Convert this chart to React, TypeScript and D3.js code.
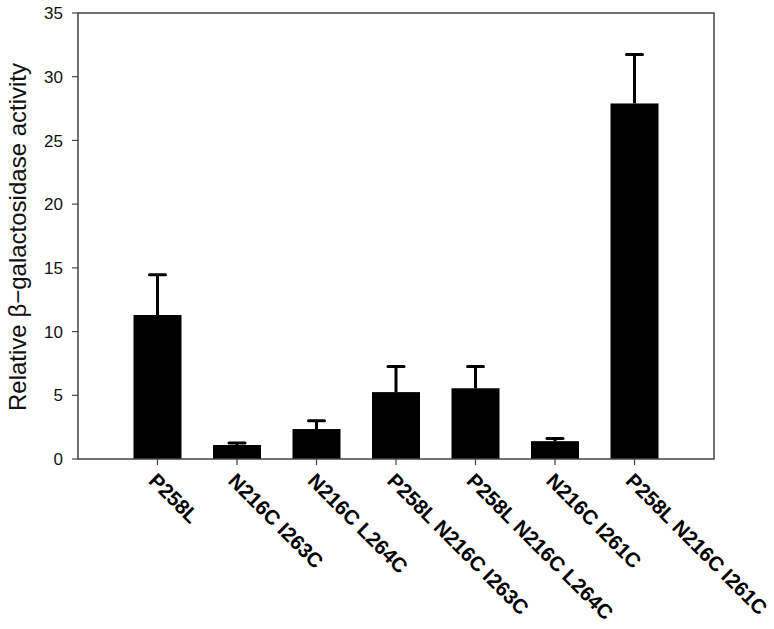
import React from "react";
import * as d3 from "d3";

const categories = [
  "P258L",
  "N216C I263C",
  "N216C L264C",
  "P258L N216C I263C",
  "P258L N216C L264C",
  "N216C I261C",
  "P258L N216C I261C",
];
const values = [11.3, 1.1, 2.35, 5.25, 5.55, 1.4, 27.9];
const errors = [3.15, 0.15, 0.65, 2.0, 1.7, 0.2, 3.85];
const yTicks = [0, 5, 10, 15, 20, 25, 30, 35];

const W = 774;
const H = 629;
const left = 78;
const right = 714;
const top = 13;
const bottom = 459;

export default function App() {
  const x = d3.scalePoint<string>().domain(categories).range([left, right]).padding(1);
  const y = d3.scaleLinear().domain([0, 35]).range([bottom, top]);
  const barW = 48;
  const axisColor = "#444";
  const font = "Arial, 'Liberation Sans', sans-serif";
  return (
    <svg width={W} height={H} style={{ position: "absolute", left: 0, top: 0, background: "#fff" }}>
      {categories.map((c, i) => {
        const cx = x(c)!;
        const yTop = y(values[i]);
        const yErr = y(values[i] + errors[i]);
        return (
          <g key={c}>
            <rect x={cx - barW / 2} y={yTop} width={barW} height={bottom - yTop} fill="#000" />
            <line x1={cx} x2={cx} y1={yTop} y2={yErr} stroke="#000" strokeWidth={3} />
            <line x1={cx - 8} x2={cx + 8} y1={yErr} y2={yErr} stroke="#000" strokeWidth={3} strokeLinecap="round" />
          </g>
        );
      })}
      <rect x={left} y={top} width={right - left} height={bottom - top} fill="none" stroke={axisColor} strokeWidth={1.5} />
      {yTicks.map((t) => (
        <g key={t}>
          <line x1={left - 6} x2={left} y1={y(t)} y2={y(t)} stroke={axisColor} strokeWidth={1.2} />
          <text x={left - 15} y={y(t)} dy="0.36em" textAnchor="end" fontFamily={font} fontSize={17} fill="#111">
            {t}
          </text>
        </g>
      ))}
      {categories.map((c) => {
        const cx = x(c)!;
        return (
          <g key={"l" + c}>
            <line x1={cx} x2={cx} y1={bottom} y2={bottom + 6} stroke={axisColor} strokeWidth={1.2} />
            <text
              transform={`translate(${cx - 10},${bottom + 23}) rotate(45)`}
              fontFamily={font}
              fontSize={20.5}
              fontWeight="bold"
              fill="#000"
            >
              {c}
            </text>
          </g>
        );
      })}
      <text
        transform={`translate(26,${(top + bottom) / 2 + 1}) rotate(-90)`}
        textAnchor="middle"
        fontFamily={font}
        fontSize={24}
        fill="#111"
      >
        Relative β−galactosidase activity
      </text>
    </svg>
  );
}
